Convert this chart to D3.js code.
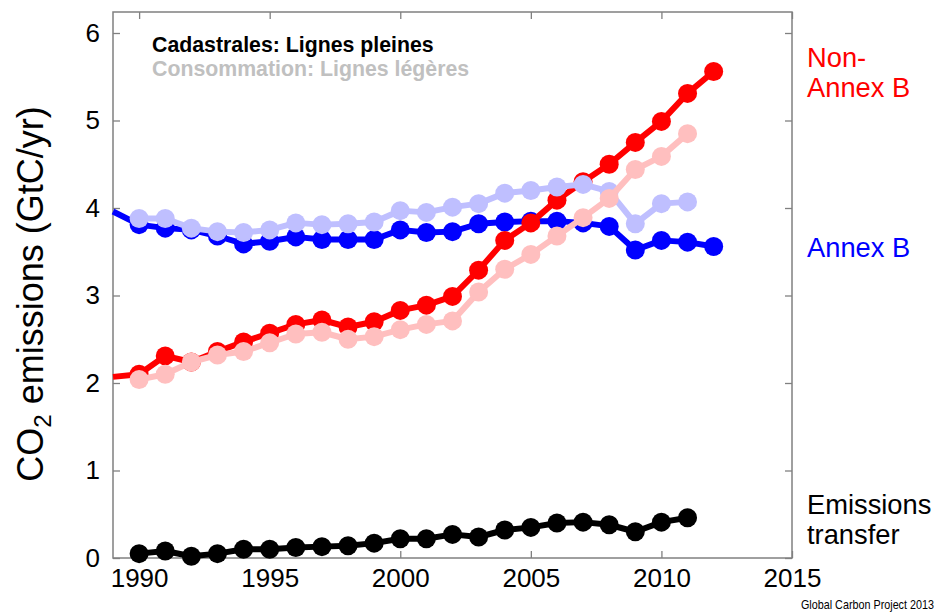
<!DOCTYPE html>
<html>
<head>
<meta charset="utf-8">
<script src="https://cdn.jsdelivr.net/npm/d3@7"></script>
<style>
  html, body { margin: 0; padding: 0; background: #fff; }
  svg { display: block; font-family: "Liberation Sans", Arial, sans-serif; }
</style>
</head>
<body>
<svg id="chart" width="937" height="616"></svg>
<script>
// ---- data ----
const years = [1990,1991,1992,1993,1994,1995,1996,1997,1998,1999,2000,2001,2002,2003,2004,2005,2006,2007,2008,2009,2010,2011,2012];
// territorial (solid) emissions, GtC/yr
const annexBProd    = [3.81,3.77,3.75,3.68,3.59,3.62,3.67,3.64,3.64,3.64,3.75,3.72,3.73,3.82,3.84,3.85,3.85,3.83,3.79,3.52,3.63,3.61,3.56];
const nonAnnexBProd = [2.10,2.31,2.24,2.36,2.47,2.57,2.67,2.72,2.64,2.70,2.83,2.89,2.99,3.29,3.63,3.83,4.09,4.30,4.50,4.75,4.99,5.31,5.56];
// consumption-based (light) emissions, 1990-2011
const annexBCons    = [3.88,3.88,3.77,3.73,3.72,3.75,3.83,3.81,3.82,3.84,3.97,3.95,4.01,4.05,4.17,4.20,4.24,4.27,4.19,3.82,4.05,4.07];
const nonAnnexBCons = [2.04,2.10,2.24,2.32,2.36,2.46,2.56,2.58,2.50,2.53,2.61,2.67,2.71,3.04,3.30,3.47,3.68,3.89,4.11,4.44,4.59,4.85];
// emissions transfer, 1990-2011
const transfer      = [0.05,0.08,0.02,0.05,0.10,0.10,0.12,0.13,0.14,0.17,0.22,0.22,0.27,0.24,0.32,0.35,0.40,0.41,0.38,0.30,0.41,0.46];
// lines continue from the year before the first marker
const leadYear = 1989;
const annexBLead = 3.96;
const nonAnnexBLead = 2.07;

const xTicks = [1990,1995,2000,2005,2010,2015];
const yTicks = [0,1,2,3,4,5,6];
const legendLines = ["Cadastrales: Lignes pleines", "Consommation: Lignes légères"];
const credit = "Global Carbon Project 2013";

// ---- layout ----
const svg = d3.select("#chart");
const L = 113, R = 792, T = 12, B = 558;
const x = d3.scaleLinear().domain([1989, 2015]).range([L, R]);
const y = d3.scaleLinear().domain([0, 6.24]).range([B, T]);

svg.append("rect").attr("width", 937).attr("height", 616).attr("fill", "#fff");

const frameColor = "#808080";
const tickLen = 7;
function styleAxis(g) {
  g.select(".domain").remove();
  g.selectAll(".tick line").attr("stroke", frameColor).attr("stroke-width", 1.3);
  g.selectAll(".tick text").attr("fill", "#000").attr("font-size", 26)
    .attr("font-family", "'Liberation Sans', Arial, sans-serif");
}
// bottom
svg.append("g").attr("transform", `translate(0,${B})`)
  .call(d3.axisBottom(x).tickValues(xTicks).tickFormat(d3.format("d")).tickSizeInner(-tickLen).tickSizeOuter(0).tickPadding(11))
  .call(styleAxis);
// top
svg.append("g").attr("transform", `translate(0,${T})`)
  .call(d3.axisTop(x).tickValues(xTicks).tickFormat("").tickSizeInner(-tickLen).tickSizeOuter(0))
  .call(styleAxis);
// left
svg.append("g").attr("transform", `translate(${L},0)`)
  .call(d3.axisLeft(y).tickValues(yTicks).tickFormat(d3.format("d")).tickSizeInner(-tickLen).tickSizeOuter(0).tickPadding(13))
  .call(styleAxis);
// right
svg.append("g").attr("transform", `translate(${R},0)`)
  .call(d3.axisRight(y).tickValues(yTicks).tickFormat("").tickSizeInner(-tickLen).tickSizeOuter(0))
  .call(styleAxis);
// frame
svg.append("rect").attr("x", L).attr("y", T).attr("width", R - L).attr("height", B - T)
  .attr("fill", "none").attr("stroke", frameColor).attr("stroke-width", 1.5);

// ---- series ----
const line = d3.line().x(d => x(d[0])).y(d => y(d[1]));
const plot = svg.append("g");
function drawSeries(vals, color, lead) {
  const pts = vals.map((v, i) => [years[i], v]);
  const linePts = lead === undefined ? pts : [[leadYear, lead]].concat(pts);
  plot.append("path").datum(linePts).attr("d", line)
    .attr("fill", "none").attr("stroke", color).attr("stroke-width", 6).attr("stroke-linejoin", "round");
  plot.append("g").selectAll("circle").data(pts).join("circle")
    .attr("cx", d => x(d[0])).attr("cy", d => y(d[1])).attr("r", 9.5).attr("fill", color);
}
drawSeries(annexBProd, "#0000ff", annexBLead);
drawSeries(nonAnnexBProd, "#ff0000", nonAnnexBLead);
drawSeries(annexBCons, "#bfbfff");
drawSeries(nonAnnexBCons, "#ffbfbf");
drawSeries(transfer, "#000000");

// ---- legend text ----
svg.append("text").attr("x", 152).attr("y", 52).attr("font-size", 21.3).attr("font-weight", "bold")
  .attr("fill", "#000").text(legendLines[0]);
svg.append("text").attr("x", 152).attr("y", 76).attr("font-size", 21.3).attr("font-weight", "bold")
  .attr("fill", "#c0c0c0").text(legendLines[1]);

// ---- right labels ----
const rl = svg.append("g").attr("font-size", 27.3);
rl.append("text").attr("x", 807).attr("y", 67).attr("fill", "#ff0000").text("Non-");
rl.append("text").attr("x", 807).attr("y", 97).attr("fill", "#ff0000").text("Annex B");
rl.append("text").attr("x", 807).attr("y", 257).attr("fill", "#0000ff").text("Annex B");
rl.append("text").attr("x", 807).attr("y", 514).attr("fill", "#000").text("Emissions");
rl.append("text").attr("x", 807).attr("y", 544).attr("fill", "#000").text("transfer");

// ---- y axis title ----
const yt = svg.append("text").attr("transform", "translate(43,294) rotate(-90)")
  .attr("text-anchor", "middle").attr("font-size", 36).attr("fill", "#000");
yt.append("tspan").text("CO");
yt.append("tspan").attr("font-size", 24).attr("dy", 8).text("2");
yt.append("tspan").attr("dy", -8).text(" emissions (GtC/yr)");

// ---- credit ----
svg.append("g").attr("transform", "translate(934,609) scale(0.83,1)")
  .append("text").attr("x", 0).attr("y", 0).attr("text-anchor", "end")
  .attr("font-size", 13).attr("fill", "#000").text(credit);
</script>
</body>
</html>
